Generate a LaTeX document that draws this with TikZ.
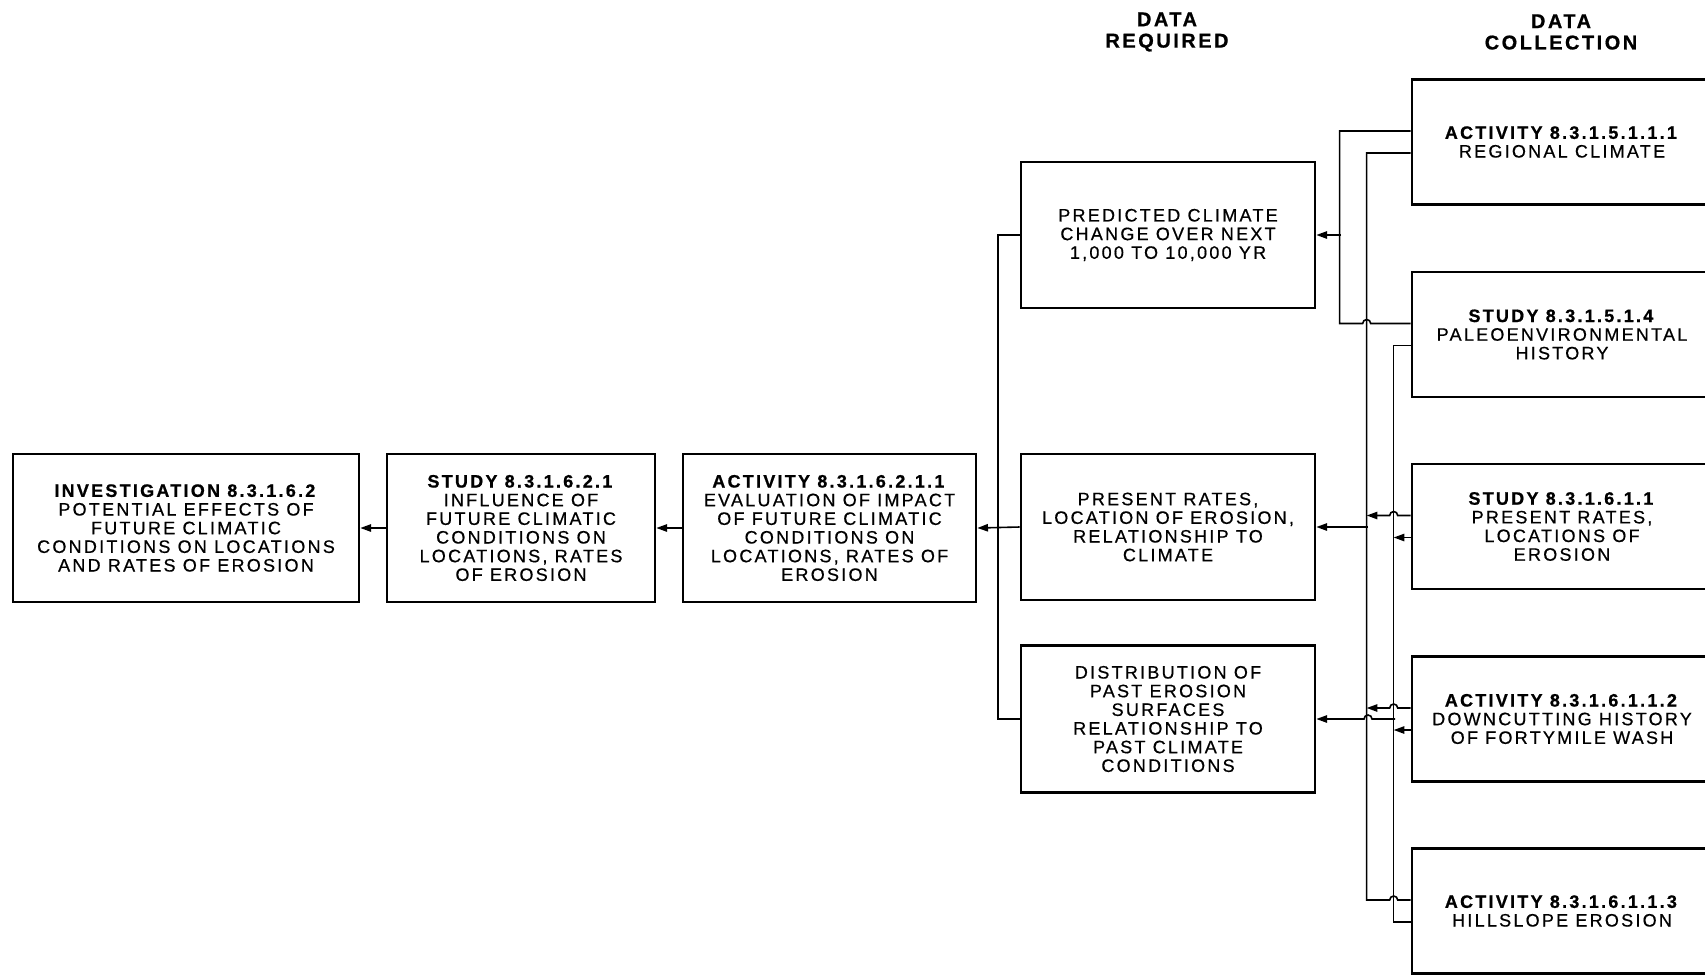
\documentclass[tikz,border=0pt]{standalone}
\usepackage{fontspec}
\setmainfont{Liberation Sans}[LetterSpace=12.5, UprightFeatures={FakeBold=0.6}, BoldFeatures={FakeBold=0.8}]
\usepackage{tikz}
\usetikzlibrary{arrows.meta,calc}

\begin{document}
\begin{tikzpicture}[x=0.75pt,y=0.75pt,yscale=-1,xscale=1,
  box/.style={draw, line width=2pt, align=center, inner sep=0pt, font=\fontsize{13.5pt}{14pt}\selectfont},
  head/.style={align=center, inner sep=0pt, font=\fontsize{15pt}{16pt}\selectfont\bfseries},
  wire/.style={line width=1.2pt},
  arrowwire/.style={wire, -{Triangle[length=8pt,width=5.5pt]}}]
\useasboundingbox (0,0) rectangle (1705,975);
\clip (0,0) rectangle (1705,975);

% Text Node
\node[head] (hreq) at (1167,32) {DATA\\REQUIRED};
% Text Node
\node[head] (hcol) at (1561,32) {DATA\\COLLECTION};

%Shape: Rectangle
\node[box, minimum width=259.5pt, minimum height=111pt] (inv) at (186,528) {\textbf{INVESTIGATION 8.3.1.6.2}\\POTENTIAL EFFECTS OF\\FUTURE CLIMATIC\\CONDITIONS ON LOCATIONS\\AND RATES OF EROSION};
%Shape: Rectangle
\node[box, minimum width=201pt, minimum height=111pt] (studyfut) at (521,528) {\textbf{STUDY 8.3.1.6.2.1}\\INFLUENCE OF\\FUTURE CLIMATIC\\CONDITIONS ON\\LOCATIONS, RATES\\OF EROSION};
%Shape: Rectangle
\node[box, minimum width=219.75pt, minimum height=111pt] (actfut) at (829.5,528) {\textbf{ACTIVITY 8.3.1.6.2.1.1}\\EVALUATION OF IMPACT\\OF FUTURE CLIMATIC\\CONDITIONS ON\\LOCATIONS, RATES OF\\EROSION};

%Shape: Rectangle
\node[box, minimum width=220.5pt, minimum height=109.5pt] (pred) at (1168,235) {PREDICTED CLIMATE\\CHANGE OVER NEXT\\1,000 TO 10,000 YR};
%Shape: Rectangle
\node[box, minimum width=220.5pt, minimum height=109.5pt] (pres) at (1168,527) {PRESENT RATES,\\LOCATION OF EROSION,\\RELATIONSHIP TO\\CLIMATE};
%Shape: Rectangle
\node[box, minimum width=220.5pt, minimum height=110.25pt] (dist) at (1168,719) {DISTRIBUTION OF\\PAST EROSION\\SURFACES\\RELATIONSHIP TO\\PAST CLIMATE\\CONDITIONS};

%Shape: Rectangle
\node[box, minimum width=225pt, minimum height=93.75pt] (regclim) at (1562,142) {\textbf{ACTIVITY 8.3.1.5.1.1.1}\\REGIONAL CLIMATE};
%Shape: Rectangle
\node[box, minimum width=225pt, minimum height=93.75pt] (paleo) at (1562,334.5) {\textbf{STUDY 8.3.1.5.1.4}\\PALEOENVIRONMENTAL\\HISTORY};
%Shape: Rectangle
\node[box, minimum width=225pt, minimum height=93.75pt] (studyero) at (1562,526.5) {\textbf{STUDY 8.3.1.6.1.1}\\PRESENT RATES,\\LOCATIONS OF\\EROSION};
%Shape: Rectangle
\node[box, minimum width=225pt, minimum height=93.75pt] (actdown) at (1562,719) {\textbf{ACTIVITY 8.3.1.6.1.1.2}\\DOWNCUTTING HISTORY\\OF FORTYMILE WASH};
%Shape: Rectangle
\node[box, minimum width=225pt, minimum height=93.75pt] (acthill) at (1562,911) {\textbf{ACTIVITY 8.3.1.6.1.1.3}\\HILLSLOPE EROSION};

% bus lines
\coordinate (busl) at (998,0);
\coordinate (loop) at (1341,0);
\coordinate (busa) at (1368,0);
\coordinate (busb) at (1395,0);

%Straight Lines
\draw[arrowwire] (actfut.west) -- (studyfut.east);
\draw[arrowwire] (studyfut.west) -- (inv.east);
\draw[arrowwire] (pres.west) -- (actfut.east);
\draw[wire] (pred.west) -- (busl |- pred.west) |- (dist.west);

%Straight Lines
\draw[wire] ($(paleo.west)+(0,-11)$) -- ++(-40,0) arc[start angle=0,end angle=-180,radius=4] -- ++(-23,0) |- ($(regclim.west)+(0,-11)$);
\draw[arrowwire] (pred.east -| loop) -- (pred.east);

%Straight Lines
\draw[wire] ($(acthill.west)+(0,-11)$) -- ++(-13,0) arc[start angle=0,end angle=-180,radius=4] -- ++(-23,0) |- ($(regclim.west)+(0,11)$);
\draw[wire] ($(acthill.west)+(0,11)$) -- ++(-17,0) |- ($(paleo.west)+(0,11)$);

%Straight Lines
\draw[arrowwire] ($(studyero.west)+(0,-11)$) -- ++(-13,0) arc[start angle=0,end angle=-180,radius=4] -- ++(-23,0);
\draw[arrowwire] ($(studyero.west)+(0,11)$) -- ++(-17,0);
\draw[arrowwire] ($(actdown.west)+(0,-11)$) -- ++(-13,0) arc[start angle=0,end angle=-180,radius=4] -- ++(-23,0);
\draw[arrowwire] ($(actdown.west)+(0,11)$) -- ++(-17,0);

%Straight Lines
\draw[arrowwire] (pres.east -| busa) -- (pres.east);
\draw[arrowwire] (dist.east -| busb) -- ++(-23,0) arc[start angle=0,end angle=-180,radius=4] -- (dist.east);

\end{tikzpicture}
\end{document}
